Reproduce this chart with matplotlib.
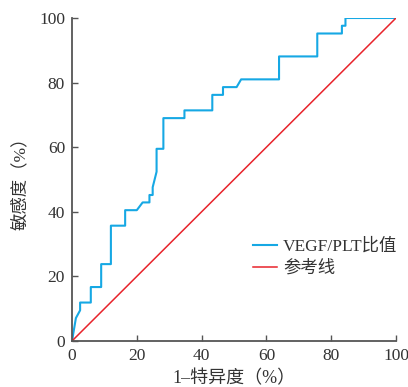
import matplotlib
matplotlib.use("Agg")
import matplotlib.pyplot as plt

plt.rcParams['font.family'] = ['Liberation Serif', 'Noto Sans CJK SC', 'DejaVu Sans']
plt.rcParams['axes.unicode_minus'] = True

# ROC curve vertices (1-specificity %, sensitivity %)
fpr = [0, 1.2, 2.5, 2.5, 5.8, 5.8, 9.0, 9.0, 12.0, 12.0, 16.4, 16.4, 20.0, 21.8,
       23.9, 23.9, 24.9, 24.9, 26.1, 26.1, 28.2, 28.2, 34.7, 34.7, 43.3, 43.3,
       46.6, 46.6, 50.8, 52.2, 63.9, 63.9, 75.7, 75.7, 83.3, 83.3, 84.4, 84.4, 100]
tpr = [0, 7.1, 9.5, 11.9, 11.9, 16.7, 16.7, 23.8, 23.8, 35.7, 35.7, 40.5, 40.5, 42.9,
       42.9, 45.2, 45.2, 47.6, 52.4, 59.5, 59.5, 69.0, 69.0, 71.4, 71.4, 76.2,
       76.2, 78.6, 78.6, 81.0, 81.0, 88.1, 88.1, 95.2, 95.2, 97.6, 97.6, 100, 100]

ref_x = [0, 100]
ref_y = [0, 100]
ticks = [0, 20, 40, 60, 80, 100]

fig = plt.figure(figsize=(4.08, 3.87), dpi=100)
ax = fig.add_axes([0.1765, 0.1189, 0.7941, 0.8346])

ax.plot(fpr, tpr, color='#16a8e4', linewidth=1.5, label='VEGF/PLT比值')
ax.plot(ref_x, ref_y, color='#e8232b', linewidth=1.1, label='参考线')

ax.set_xlim(0, 100)
ax.set_ylim(0, 100)
ax.set_xticks(ticks)
ax.set_yticks(ticks)

for side in ['top', 'right']:
    ax.spines[side].set_visible(False)
for side in ['left', 'bottom']:
    ax.spines[side].set_color('#555555')
    ax.spines[side].set_linewidth(1.3)

ax.tick_params(direction='in', length=4.5, width=1.0, color='#555555',
               labelsize=12.5, labelcolor='#333333', pad=5)

ax.set_xlabel('1–特异度（%）', fontsize=13, color='#333333', labelpad=4)
ax.set_ylabel('敏感度（%）', fontsize=12.5, color='#333333', labelpad=7)

leg = ax.legend(loc='center left', bbox_to_anchor=(0.558, 0.258), frameon=False,
                fontsize=12.5, handlelength=1.38, handletextpad=0.35,
                labelspacing=0.3, borderaxespad=0, borderpad=0)
for t in leg.get_texts():
    t.set_color('#333333')

fig.savefig('out.png', dpi=100)
